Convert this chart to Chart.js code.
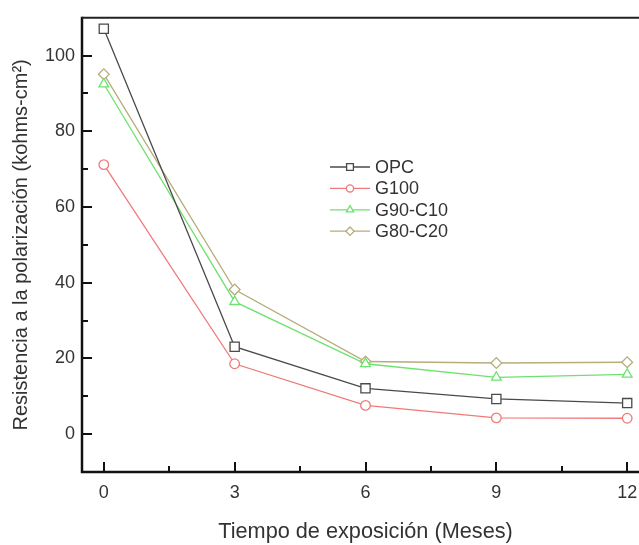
<!DOCTYPE html>
<html>
<head>
<meta charset="utf-8">
<script src="https://cdn.jsdelivr.net/npm/chart.js@4/dist/chart.umd.min.js"></script>
<style>
  html, body { margin: 0; padding: 0; background: #fff; }
  #wrap { width: 639px; height: 545px; overflow: hidden; position: relative; }
  #chart { display: block; }
</style>
</head>
<body>
<div id="wrap"><canvas id="chart" width="660" height="545"></canvas></div>
<script>
const months = [0, 3, 6, 9, 12];
const opc = [107.1, 23.1, 12.1, 9.3, 8.2];
const g100 = [71.2, 18.6, 7.6, 4.3, 4.2];
const g90c10 = [92.5, 35.0, 18.6, 15.0, 15.8];
const g80c20 = [95.1, 38.2, 19.2, 18.8, 19.0];

const xTicks = [0, 3, 6, 9, 12];
const xMinor = [1.5, 4.5, 7.5, 10.5];
const yTicks = [0, 20, 40, 60, 80, 100];
const yMinor = [-10, 10, 30, 50, 70, 90, 110];

const labelColor = "#333";

function pts(values) {
    return months.map((m, i) => ({ x: m, y: values[i] }));
}

const series = [
    { label: "OPC", data: opc, color: "#4a4a4a", style: "rect", r: 6.5, lr: 4.8 },
    { label: "G100", data: g100, color: "#f07a7a", style: "circle", r: 4.8, lr: 3.6 },
    { label: "G90-C10", data: g90c10, color: "#6ee26e", style: "triangle", r: 5.6, lr: 4.2 },
    { label: "G80-C20", data: g80c20, color: "#b5ad7a", style: "rectRot", r: 5.4, lr: 4.2 }
];

// frame, inward ticks and the line+marker legend
const framePlugin = {
    id: "frame",
    afterDraw(chart) {
        const ctx = chart.ctx;
        const a = chart.chartArea;
        const xs = chart.scales.x;
        const ys = chart.scales.y;

        ctx.save();
        ctx.strokeStyle = "#111";
        ctx.lineCap = "butt";

        ctx.lineWidth = 2.5;
        ctx.beginPath();
        ctx.moveTo(a.left, a.top - 1);
        ctx.lineTo(a.left, a.bottom);
        ctx.lineTo(chart.width, a.bottom);
        ctx.stroke();

        ctx.lineWidth = 2;
        ctx.strokeStyle = "#222";
        ctx.beginPath();
        ctx.moveTo(a.left, a.top);
        ctx.lineTo(chart.width, a.top);
        ctx.stroke();

        ctx.strokeStyle = "#111";
        ctx.lineWidth = 2;
        ctx.beginPath();
        yTicks.forEach(v => {
            const y = Math.round(ys.getPixelForValue(v));
            ctx.moveTo(a.left, y);
            ctx.lineTo(a.left + 10, y);
        });
        yMinor.forEach(v => {
            const y = Math.round(ys.getPixelForValue(v));
            if (y <= a.top + 2 || y >= a.bottom - 2) return;
            ctx.moveTo(a.left, y);
            ctx.lineTo(a.left + 6, y);
        });
        xTicks.forEach(v => {
            const x = Math.round(xs.getPixelForValue(v));
            ctx.moveTo(x, a.bottom);
            ctx.lineTo(x, a.bottom - 10);
        });
        xMinor.forEach(v => {
            const x = Math.round(xs.getPixelForValue(v));
            ctx.moveTo(x, a.bottom);
            ctx.lineTo(x, a.bottom - 6);
        });
        ctx.stroke();

        // legend
        const lx = a.left + 248;
        let ly = 167;
        ctx.font = "18px 'Liberation Sans', Arial, sans-serif";
        ctx.textBaseline = "middle";
        ctx.textAlign = "left";
        series.forEach(s => {
            ctx.strokeStyle = s.color;
            ctx.lineWidth = 1.3;
            ctx.beginPath();
            ctx.moveTo(lx, ly);
            ctx.lineTo(lx + 40, ly);
            ctx.stroke();
            ctx.fillStyle = "#fff";
            Chart.helpers.drawPoint(ctx, { pointStyle: s.style, radius: s.lr, rotation: 0, borderWidth: 1.2 }, lx + 20, ly);
            ctx.fillStyle = labelColor;
            ctx.fillText(s.label, lx + 45, ly + 1);
            ly += 21.4;
        });
        ctx.restore();
    }
};

new Chart(document.getElementById("chart"), {
    type: "line",
    data: {
        datasets: series.map(s => ({
            label: s.label,
            data: pts(s.data),
            borderColor: s.color,
            borderWidth: 1.3,
            pointStyle: s.style,
            pointRadius: s.r,
            pointBorderColor: s.color,
            pointBorderWidth: 1.3,
            pointBackgroundColor: "#fff",
            tension: 0
        }))
    },
    options: {
        responsive: false,
        animation: false,
        layout: { padding: { top: 15, right: 11, left: 0, bottom: 0 } },
        plugins: { legend: { display: false }, tooltip: { enabled: false } },
        scales: {
            x: {
                type: "linear",
                min: -0.5,
                max: 12.5,
                afterBuildTicks: scale => { scale.ticks = xTicks.map(v => ({ value: v })); },
                afterFit: scale => { scale.height = 73; },
                grid: { display: false, drawTicks: false },
                border: { display: false },
                ticks: {
                    padding: 10,
                    color: labelColor,
                    font: { family: "'Liberation Sans', Arial, sans-serif", size: 18 }
                },
                title: {
                    display: true,
                    text: "Tiempo de exposición (Meses)",
                    color: labelColor,
                    padding: { top: 0, bottom: 0 },
                    font: { family: "'Liberation Sans', Arial, sans-serif", size: 21.7 }
                }
            },
            y: {
                type: "linear",
                min: -10,
                max: 110,
                afterBuildTicks: scale => { scale.ticks = yTicks.map(v => ({ value: v })); },
                afterFit: scale => { scale.width = 82; },
                grid: { display: false, drawTicks: false },
                border: { display: false },
                ticks: {
                    padding: 7,
                    color: labelColor,
                    font: { family: "'Liberation Sans', Arial, sans-serif", size: 18 }
                },
                title: {
                    display: true,
                    text: "Resistencia a la polarización (kohms-cm²)",
                    color: labelColor,
                    padding: { top: 9, bottom: 0 },
                    font: { family: "'Liberation Sans', Arial, sans-serif", size: 20 }
                }
            }
        }
    },
    plugins: [framePlugin]
});
</script>
</body>
</html>
